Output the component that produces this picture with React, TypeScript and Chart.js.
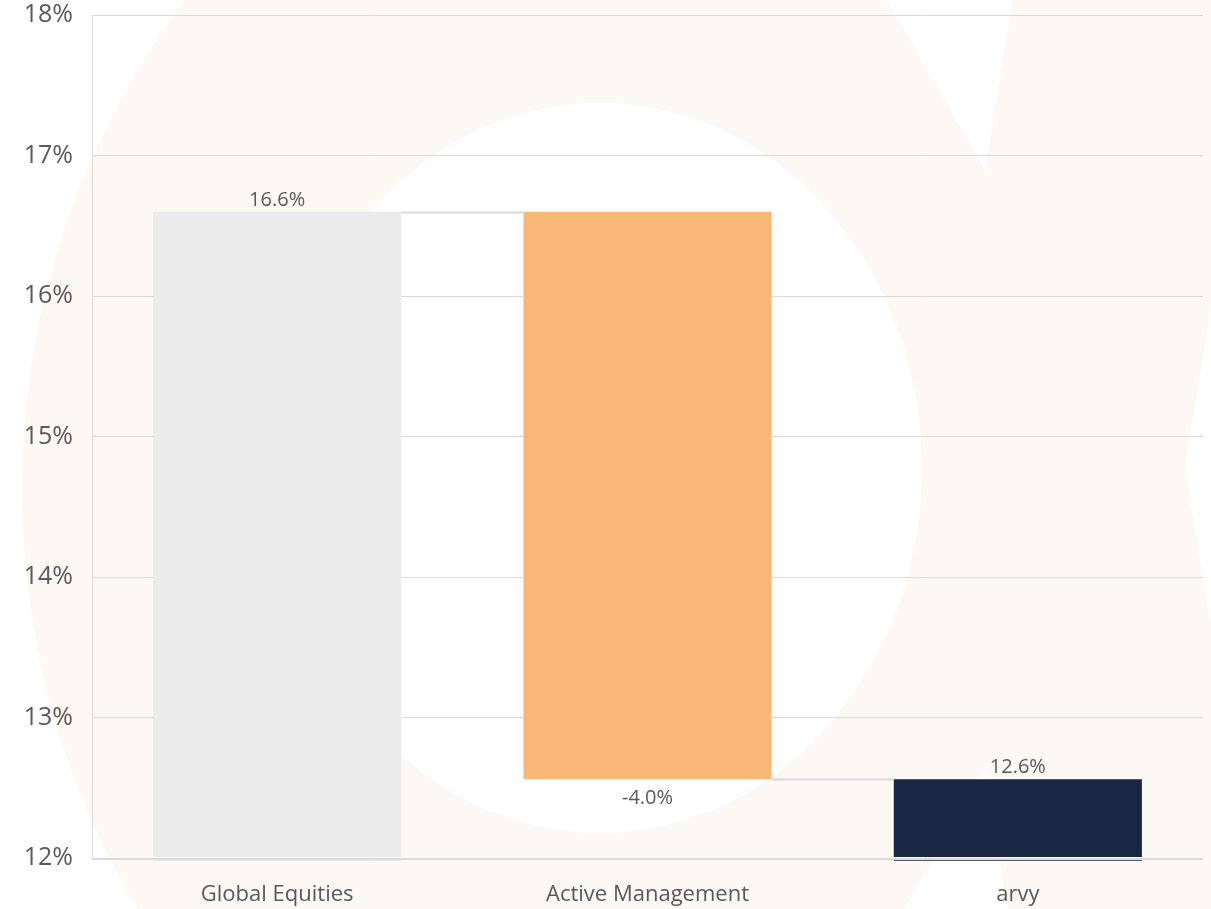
import React, { useEffect, useRef } from "react";
import { Chart, registerables } from "chart.js";

Chart.register(...registerables);

// ---- data ----
const categories: string[] = ["Global Equities", "Active Management", "arvy"];
const startValue = 16.6; // Global Equities
const changeValues: number[] = [-4.04]; // Active Management
const barFloor = 11.98; // bars start just below the axis
const yTickValues: number[] = [12, 13, 14, 15, 16, 17, 18];
const barColors: string[] = ["#ebebeb", "#f7b877", "#1a2744"];

const endValue = startValue + changeValues.reduce((a, b) => a + b, 0);
const barRanges: [number, number][] = [
  [barFloor, startValue],
  [endValue, startValue],
  [barFloor, endValue],
];
const labelValues: number[] = [startValue, changeValues[0], endValue];

const FONT = "'Open Sans', 'Noto Sans', sans-serif";
const TEXT = "#595959";
const GRID = "#d9d9d9";

const overlayPlugin = {
  id: "waterfallOverlay",
  afterDatasetsDraw(chart: any) {
    const { ctx, chartArea } = chart;
    const meta = chart.getDatasetMeta(0);
    const y = chart.scales.y;
    ctx.save();
    // connectors
    ctx.strokeStyle = GRID;
    ctx.lineWidth = 2;
    const levels = [startValue, endValue];
    for (let i = 0; i < meta.data.length - 1; i++) {
      const a = meta.data[i] as any;
      const b = meta.data[i + 1] as any;
      const yy = Math.round(y.getPixelForValue(levels[i])) + 0.5;
      ctx.beginPath();
      ctx.moveTo(a.x + a.width / 2, yy);
      ctx.lineTo(b.x - b.width / 2, yy);
      ctx.stroke();
    }
    // axis line on top
    const by = Math.round(y.getPixelForValue(yTickValues[0]));
    ctx.lineWidth = 1;
    ctx.strokeStyle = "#ffffff";
    ctx.beginPath();
    ctx.moveTo(chartArea.left, by - 0.5);
    ctx.lineTo(chartArea.right, by - 0.5);
    ctx.stroke();
    ctx.strokeStyle = GRID;
    ctx.lineWidth = 2;
    ctx.beginPath();
    ctx.moveTo(chartArea.left, by + 1);
    ctx.lineTo(chartArea.right, by + 1);
    ctx.stroke();
    // labels
    ctx.fillStyle = TEXT;
    ctx.font = `20px ${FONT}`;
    ctx.textAlign = "center";
    ctx.textBaseline = "alphabetic";
    meta.data.forEach((bar: any, i: number) => {
      const v = labelValues[i];
      const txt = v.toFixed(1) + "%";
      const top = Math.min(bar.y, bar.base);
      const bottom = Math.max(bar.y, bar.base);
      if (v < 0) {
        ctx.fillText(txt, bar.x, bottom + 25);
      } else {
        ctx.fillText(txt, bar.x, top - 6);
      }
    });
    ctx.restore();
  },
};

export default function App() {
  const ref = useRef<HTMLCanvasElement | null>(null);

  useEffect(() => {
    document.body.style.margin = "0";
    if (!ref.current) return;
    const chart = new Chart(ref.current, {
      type: "bar",
      data: {
        labels: categories,
        datasets: [
          {
            data: barRanges as any,
            backgroundColor: barColors,
            borderWidth: 0,
            barPercentage: 0.67,
            categoryPercentage: 1,
            clip: false as any,
          },
        ],
      },
      options: {
        responsive: false,
        animation: false,
        devicePixelRatio: 1,
        layout: { padding: { top: 15, right: 8, left: 0, bottom: 0 } },
        plugins: {
          legend: { display: false },
          tooltip: { enabled: false },
        },
        scales: {
          x: {
            grid: { display: false, drawTicks: false },
            border: { display: false },
            ticks: {
              color: TEXT,
              font: { family: FONT, size: 22 },
              padding: 24,
              maxRotation: 0,
            },
            afterFit: (s: any) => {
              s.height = 51;
              s.paddingLeft = 0;
              s.paddingRight = 0;
            },
          },
          y: {
            min: yTickValues[0],
            max: yTickValues[yTickValues.length - 1],
            afterBuildTicks: (s: any) => {
              s.ticks = yTickValues.map((v) => ({ value: v }));
            },
            grid: { color: GRID, lineWidth: 1, drawTicks: false },
            border: { display: true, color: GRID, width: 1 },
            ticks: {
              color: TEXT,
              font: { family: FONT, size: 25 },
              padding: 19,
              callback: (v: any) => `${v}%`,
            },
            afterFit: (s: any) => {
              s.width = 92;
              s.paddingTop = 0;
              s.paddingBottom = 0;
            },
          },
        },
      },
      plugins: [overlayPlugin],
    });
    return () => chart.destroy();
  }, []);

  return (
    <div style={{ position: "relative", width: 1211, height: 909, overflow: "hidden", background: "#ffffff" }}>
      <svg
        width={1211}
        height={909}
        style={{ position: "absolute", left: 0, top: 0 }}
      >
        <path
          fillRule="evenodd"
          fill="#fcf8f4"
          d={
            "M 22 490 A 818 818 0 1 0 1658 490 A 818 818 0 1 0 22 490 Z " +
            "M 278 468 A 322 365 0 1 0 922 468 A 322 365 0 1 0 278 468 Z"
          }
        />
        <path fill="#ffffff" d="M 878 -15 L 985 170 L 1015 -15 Z" />
        <path fill="#ffffff" d="M 878 955 L 985 768 L 1015 955 Z" />
        <path fill="#ffffff" d="M 1215 285 L 1185 467 L 1215 650 Z" />
      </svg>
      <canvas
        ref={ref}
        width={1211}
        height={909}
        style={{ position: "absolute", left: 0, top: 0 }}
      />
    </div>
  );
}
